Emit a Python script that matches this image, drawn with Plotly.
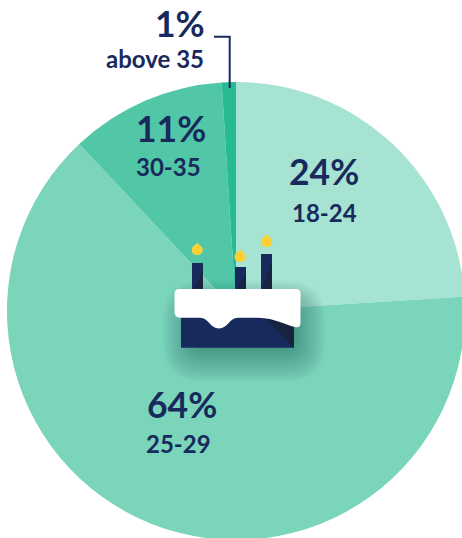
import plotly.graph_objects as go

# Age distribution
age_groups = ["18-24", "25-29", "30-35", "above 35"]
shares = [24, 64, 11, 1]
slice_colors = ["#A7E3D3", "#7AD5BB", "#52C7A8", "#26BB92"]

NAVY = "#182A5B"
NAVY_DARK = "#18243F"
W, H = 472, 542
CX, CY, R = 236, 311, 229


def px(x):
    return x / W


def py(y):
    return 1 - y / H


def path(points):
    return "M " + " L ".join(f"{px(x):.5f},{py(y):.5f}" for x, y in points) + " Z"


def smooth(commands):
    # Small SVG path builder working in pixel units
    out = []
    for cmd, *pts in commands:
        out.append(cmd + " " + " ".join(f"{px(x):.5f},{py(y):.5f}" for x, y in pts))
    return " ".join(out)


def flame(cx, top, bottom, half=5.5):
    mid = bottom - half
    return smooth([
        ("M", (cx, top)),
        ("C", (cx + 1.5, top + 2.5), (cx + half, mid - 3), (cx + half, mid)),
        ("C", (cx + half, bottom - 1.5), (cx + 3, bottom), (cx, bottom)),
        ("C", (cx - 3, bottom), (cx - half, bottom - 1.5), (cx - half, mid)),
        ("C", (cx - half, mid - 3), (cx - 1.5, top + 2.5), (cx, top)),
        ("Z",),
    ])


shapes = []

# Soft shadow under the cake, built up from stacked translucent rounded boxes
for i in range(30):
    grow = 42 - i * 1.4
    x0, x1, y0, y1 = 200 - grow * 0.9, 288 + grow * 0.9, 318 - grow * 0.9, 342 + grow * 0.95
    r = grow * 0.9 + 2
    d = smooth([
        ("M", (x0 + r, y0)), ("L", (x1 - r, y0)),
        ("Q", (x1, y0), (x1, y0 + r)), ("L", (x1, y1 - r)),
        ("Q", (x1, y1), (x1 - r, y1)), ("L", (x0 + r, y1)),
        ("Q", (x0, y1), (x0, y1 - r)), ("L", (x0, y0 + r)),
        ("Q", (x0, y0), (x0 + r, y0)), ("Z",),
    ])
    shapes.append(dict(type="path", xref="paper", yref="paper", path=d,
                       fillcolor="#12392F", opacity=0.016, line_width=0))


def fill(d, color):
    shapes.append(dict(type="path", xref="paper", yref="paper", path=d,
                       fillcolor=color, line_width=0))


# Candles with their shaded lower sides
for x0, x1, top in [(192, 203, 263), (235, 246, 267), (261, 272, 254)]:
    fill(path([(x0, top), (x1, top), (x1, 292), (x0, 292)]), NAVY)
    fill(path([(x1, top + 7), (x1, 292), (x0, 292)]), NAVY_DARK)

# Flames
for cx, top, bottom in [(197.3, 242.5, 255), (240, 249, 262), (266.7, 234, 247)]:
    fill(flame(cx, top, bottom), "#FFD033")

# Cake body and its cast shade
fill(path([(181, 300), (294, 300), (294, 347.7), (181, 347.7)]), NAVY)
fill(path([(263, 316), (294, 320), (294, 347.7)]), NAVY_DARK)

# Icing with a drip in the middle and a sagging right edge
fill(smooth([
    ("M", (179, 289)), ("L", (296, 289)),
    ("Q", (300.5, 289), (300.5, 293.5)), ("L", (300.5, 323)),
    ("Q", (300.5, 328), (295, 327)),
    ("C", (287, 325.5), (275, 318), (258, 317.7)),
    ("L", (238, 317.7)),
    ("C", (229, 317.7), (228, 328.5), (219, 328.5)),
    ("C", (210, 328.5), (209, 317.7), (200, 317.7)),
    ("L", (180, 317.7)),
    ("Q", (174.5, 317.5), (174.5, 312)), ("L", (174.5, 293.5)),
    ("Q", (174.5, 289), (179, 289)),
    ("Z",),
]), "#FFFFFF")

# Leader line to the thinnest slice
shapes.append(dict(type="path", xref="paper", yref="paper",
                   path=smooth([("M", (214, 36.7)), ("L", (229.7, 36.7)), ("L", (229.7, 88))]),
                   line=dict(color=NAVY, width=2), fillcolor="rgba(0,0,0,0)"))

annotations = []


def label(x, y, text, size, anchor, weight=700):
    annotations.append(dict(x=px(x), y=py(y), xref="paper", yref="paper", text=text,
                            showarrow=False, xanchor=anchor, yanchor="middle",
                            font=dict(family="Lato", size=size, color=NAVY, weight=weight)))


label_positions = [(323.5, 172, 324.5, 212), (181.5, 404, 178, 443),
                   (170.5, 128, 168, 167), (206.5, 24, 205.5, 59)]
anchors = ["center", "center", "center", "right"]
for group, share, (x1, y1, x2, y2), anchor in zip(age_groups, shares, label_positions, anchors):
    label(x1, y1, f"{share}%", 35.5, anchor)
    label(x2, y2, group, 24, anchor)

fig = go.Figure(go.Pie(
    labels=age_groups,
    values=shares,
    sort=False,
    direction="clockwise",
    rotation=0,
    textinfo="none",
    hoverinfo="label+percent",
    marker=dict(colors=slice_colors, line=dict(width=0)),
    showlegend=False,
    domain=dict(x=[px(CX - R), px(CX + R)], y=[py(CY + R), py(CY - R)]),
))

fig.update_layout(
    width=W, height=H,
    margin=dict(l=0, r=0, t=0, b=0),
    paper_bgcolor="#FFFFFF",
    shapes=shapes,
    annotations=annotations,
)

fig.write_html("out.html", post_script="document.documentElement.style.overflow='hidden';document.body.style.overflow='hidden';")
